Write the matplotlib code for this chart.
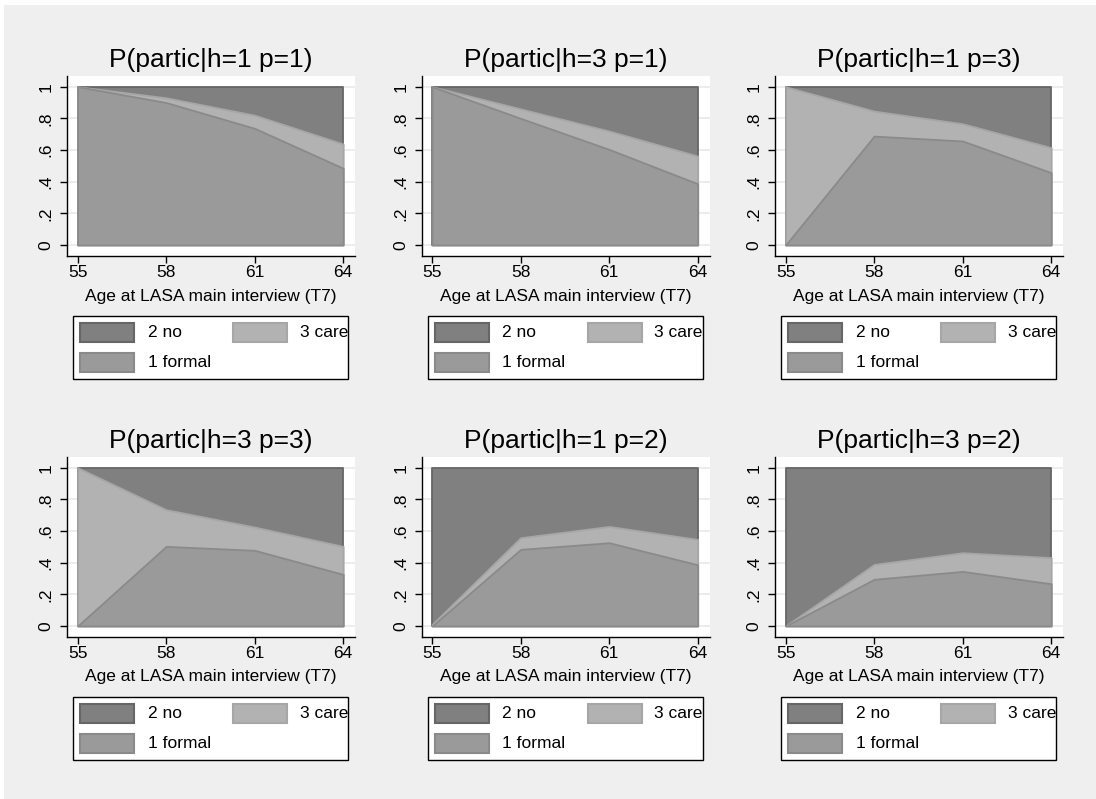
import numpy as np
import matplotlib.pyplot as plt
from matplotlib.patches import Rectangle
from matplotlib.transforms import Affine2D

plt.rcParams['font.family'] = ['Liberation Sans', 'DejaVu Sans']

W, H = 1096, 799

AGES = [55, 58, 61, 64]

TITLES = ['P(partic|h=1 p=1)', 'P(partic|h=3 p=1)', 'P(partic|h=1 p=3)',
          'P(partic|h=3 p=3)', 'P(partic|h=1 p=2)', 'P(partic|h=3 p=2)']

# predicted share in formal work, and formal + care (cumulative)
FORMAL = [[1.00, 0.90, 0.737, 0.485],
          [1.00, 0.80, 0.604, 0.387],
          [0.00, 0.688, 0.657, 0.457],
          [0.00, 0.503, 0.478, 0.326],
          [0.00, 0.484, 0.526, 0.387],
          [0.00, 0.295, 0.345, 0.267]]
FORMAL_CARE = [[1.00, 0.93, 0.82, 0.638],
               [1.00, 0.86, 0.72, 0.562],
               [1.00, 0.846, 0.766, 0.615],
               [1.00, 0.735, 0.625, 0.503],
               [0.01, 0.558, 0.629, 0.547],
               [0.00, 0.389, 0.463, 0.432]]
TOTAL = [1.0, 1.0, 1.0, 1.0]

YTICKS = [0, 0.2, 0.4, 0.6, 0.8, 1]
YTICKLABELS = ['0', '.2', '.4', '.6', '.8', '1']

LEGEND = [('2 no', '#808080', '#666666'),
          ('3 care', '#b2b2b2', '#a6a6a6'),
          ('1 formal', '#9a9a9a', '#8a8a8a')]
NO, CARE, FORMAL_C = LEGEND

COL_OFF = [0, 354.5, 708]
ROW_OFF = [0, 381]

# pixel coords with origin at the top-left
flip = Affine2D().scale(1, -1).translate(0, H)


def px_rect(x0, y0, x1, y1):
    return [x0 / W, 1 - y1 / H, (x1 - x0) / W, (y1 - y0) / H]


def px_box(fig, x, y, w, h, **kw):
    # rectangle given top-left corner in pixels
    rect = Rectangle((x, y), w, h, **kw)
    rect.set_transform(flip)
    fig.patches.append(rect)


def draw_legend(fig, dx, dy):
    px_box(fig, 73 + dx, 316 + dy, 275, 63, facecolor='white',
           edgecolor='black', linewidth=1.0, zorder=1)
    slots = [(80, 323, 148), (233, 323, 300), (80, 353, 148)]
    for (lab, fc, ec), (px, py, tx) in zip(LEGEND, slots):
        px_box(fig, px + dx, py + dy, 54, 19, facecolor=fc, edgecolor=ec,
               linewidth=1.5, zorder=2)
        fig.text((tx + dx) / W, 1 - (py + 9.5 + dy) / H, lab, fontsize=12.5,
                 ha='left', va='center', zorder=3)


fig = plt.figure(figsize=(W / 100, H / 100), dpi=100, facecolor='white')
px_box(fig, 4, 5, W - 4, H - 5, facecolor='#efefef', edgecolor='none', zorder=-1)

for i in range(6):
    r, c = divmod(i, 3)
    dx, dy = COL_OFF[c], ROW_OFF[r]
    ax = fig.add_axes(px_rect(67 + dx, 76 + dy, 355 + dx, 256 + dy))
    ax.set_facecolor('white')
    ax.fill_between(AGES, 0, TOTAL, facecolor=NO[1], edgecolor=NO[2],
                    linewidth=1.3, zorder=2)
    ax.fill_between(AGES, 0, FORMAL_CARE[i], facecolor=CARE[1], edgecolor=CARE[2],
                    linewidth=1.3, zorder=3)
    ax.fill_between(AGES, 0, FORMAL[i], facecolor=FORMAL_C[1], edgecolor=FORMAL_C[2],
                    linewidth=1.3, zorder=4)
    ax.set_xlim(54.64, 64.40)
    ax.set_ylim(-0.0695, 1.0676)
    ax.set_xticks(AGES)
    ax.set_yticks(YTICKS)
    ax.set_yticklabels(YTICKLABELS, rotation=90, va='center')
    ax.grid(axis='y', color='#eaeaea', linewidth=1.2, zorder=1)
    ax.set_axisbelow(True)
    for s in ['top', 'right']:
        ax.spines[s].set_visible(False)
    for s in ['left', 'bottom']:
        ax.spines[s].set_linewidth(1.0)
    ax.tick_params(length=5, width=1.0, labelsize=12.5, pad=1.5)
    ax.tick_params(axis='y', pad=4.5)
    ax.set_xlabel('Age at LASA main interview (T7)', fontsize=12.5, va='center')
    ax.xaxis.set_label_coords(0.5, -40 / 180)
    ax.text(0.5, 1 + 16 / 180, TITLES[i], transform=ax.transAxes,
            ha='center', va='center', fontsize=19)
    draw_legend(fig, dx, dy)

fig.savefig('out.png', dpi=100, facecolor=fig.get_facecolor())
